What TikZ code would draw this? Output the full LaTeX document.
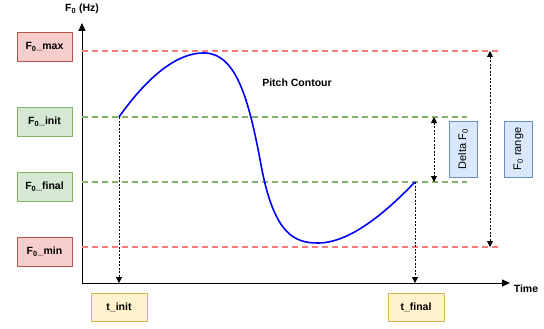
\documentclass[tikz,border=0pt]{standalone}
\usepackage{fontspec}
\setmainfont{Liberation Sans}
\usepackage{xcolor}
\usetikzlibrary{arrows.meta}
\usetikzlibrary{positioning}

\definecolor{redfill}{HTML}{F8CECC}
\definecolor{reddraw}{HTML}{B85450}
\definecolor{greenfill}{HTML}{D5E8D4}
\definecolor{greendraw}{HTML}{82B366}
\definecolor{yellowfill}{HTML}{FFF2CC}
\definecolor{yellowdraw}{HTML}{D6B656}
\definecolor{bluefill}{HTML}{DAE8FC}
\definecolor{bluedraw}{HTML}{6C8EBF}
\definecolor{redline}{HTML}{FF7777}

\tikzset{
    label font/.style={font=\fontsize{10.5}{12}\selectfont\bfseries},
    label box/.style={draw, minimum width=55pt, minimum height=29pt, label font, inner sep=1pt},
    redbox/.style={label box, fill=redfill, draw=reddraw},
    greenbox/.style={label box, fill=greenfill, draw=greendraw},
    yellowbox/.style={label box, fill=yellowfill, draw=yellowdraw, minimum width=56pt, minimum height=28pt},
    bluebox/.style={label box, fill=bluefill, draw=bluedraw, minimum width=56pt, minimum height=28pt, rotate=90, font=\fontsize{11}{13}\selectfont},
    red level/.style={redline, dash pattern=on 6pt off 4pt, line width=1.3pt},
    green level/.style={greendraw, dash pattern=on 6pt off 4pt, line width=1.3pt},
    guide/.style={dash pattern=on 2pt off 1.5pt, line width=0.8pt, -{Triangle[length=6pt,width=6pt]}},
    axis/.style={line width=1pt, -{Triangle[length=8pt,width=7pt]}},
}

\begin{document}
\begin{tikzpicture}[x=1pt, y=-1pt]
    \useasboundingbox (0,0) rectangle (544,329);

    % axes
    \coordinate (origin) at (82,283);
    \coordinate (ytop) at (82,23);
    \coordinate (xend) at (510,283);
    \draw[axis] (origin) -- (ytop);
    \draw[axis] (origin) -- (xend);
    \node[label font] (yname) at (82,9) {F\textsubscript{0} (Hz)};
    \node[label font] (xname) at (526,289) {Time};

    % levels
    \coordinate (maxl) at (82,51);
    \coordinate (maxr) at (500,51);
    \coordinate (initl) at (82,117);
    \coordinate (initr) at (467,117);
    \coordinate (finall) at (82,182);
    \coordinate (finalr) at (467,182);
    \coordinate (minl) at (82,247);
    \coordinate (minr) at (500,247);
    \draw[red level] (maxl) -- (maxr);
    \draw[green level] (initl) -- (initr);
    \draw[green level] (finall) -- (finalr);
    \draw[red level] (minl) -- (minr);

    \node[redbox] (fmax) at (44.5,47) {F\textsubscript{0}\_max};
    \node[greenbox] (finit) at (44.5,121.5) {F\textsubscript{0}\_init};
    \node[greenbox] (ffinal) at (44.5,186.5) {F\textsubscript{0}\_final};
    \node[redbox] (fmin) at (44.5,251.5) {F\textsubscript{0}\_min};

    % contour
    \coordinate (start) at (119,117);
    \coordinate (stop) at (415,182);
    \draw[blue, line width=1.6pt] (start)
        .. controls (148,76) and (178,52) .. (205,53)
        .. controls (238,54) and (250,105) .. (262,170)
        .. controls (275,235) and (295,243) .. (318,243)
        .. controls (352,243) and (390,208) .. (stop);
    \node[label font] (contour) at (297,83) {Pitch Contour};

    % times
    \coordinate (tinitax) at (119,283);
    \coordinate (tfinalax) at (415,283);
    \draw[guide] (start) -- (tinitax);
    \draw[guide] (stop) -- (tfinalax);
    \node[yellowbox] (tinit) at (119,307) {t\_init};
    \node[yellowbox] (tfinal) at (416,307) {t\_final};

    % ranges
    \coordinate (dtop) at (434,117);
    \coordinate (dbot) at (434,182);
    \draw[guide, {Triangle[length=6pt,width=6pt]}-{Triangle[length=6pt,width=6pt]}] (dtop) -- (dbot);
    \coordinate (rtop) at (490,51);
    \coordinate (rbot) at (490,247);
    \draw[guide, {Triangle[length=6pt,width=6pt]}-{Triangle[length=6pt,width=6pt]}] (rtop) -- (rbot);
    \node[bluebox] (delta) at (463,149) {Delta F\textsubscript{0}};
    \node[bluebox] (range) at (518.5,149) {F\textsubscript{0} range};
\end{tikzpicture}
\end{document}
